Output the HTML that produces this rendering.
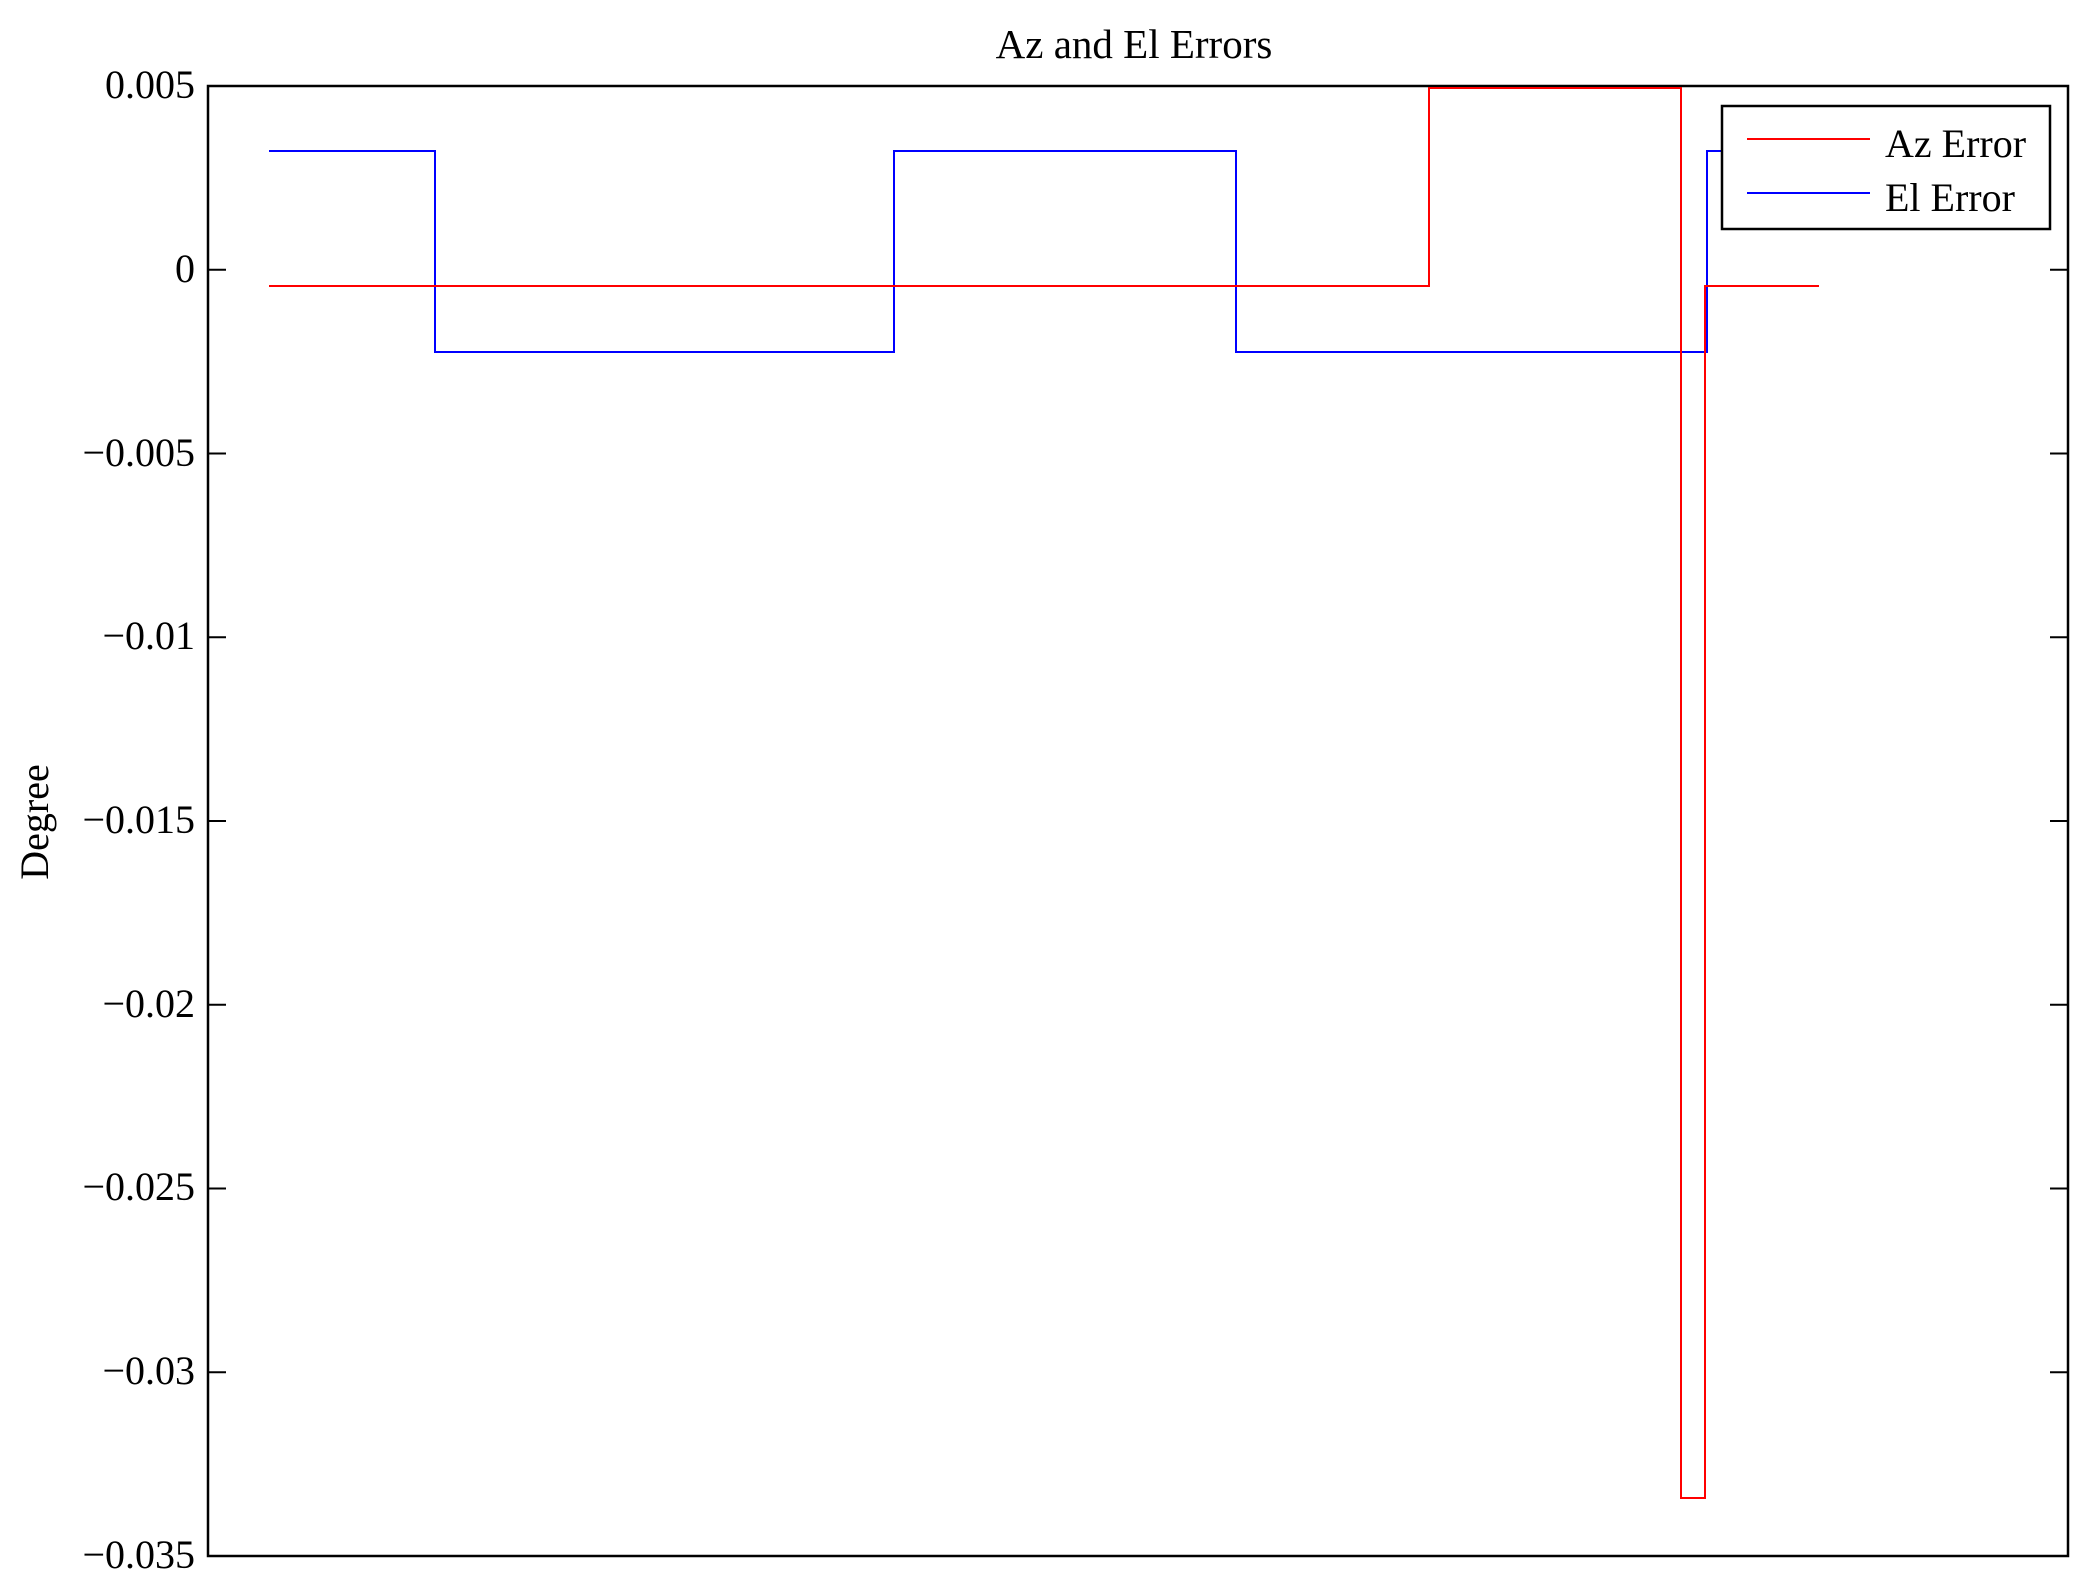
<!DOCTYPE html>
<html><head><meta charset="utf-8"><style>
html,body{margin:0;padding:0;background:#fff;}
svg{display:block;}
text{font-family:"Liberation Serif",serif;fill:#000;}
</style></head><body>
<svg width="2096" height="1592" viewBox="0 0 2096 1592" xmlns="http://www.w3.org/2000/svg">
<rect width="2096" height="1592" fill="#fff"/>
<text x="1134" y="58" font-size="41" text-anchor="middle">Az and El Errors</text>
<text transform="translate(48,822) rotate(-90)" font-size="40" text-anchor="middle">Degree</text>
<g stroke="#000" stroke-width="2">
<line x1="208" y1="86" x2="226" y2="86"/><line x1="2068" y1="86" x2="2050" y2="86"/>
<line x1="208" y1="269.75" x2="226" y2="269.75"/><line x1="2068" y1="269.75" x2="2050" y2="269.75"/>
<line x1="208" y1="453.5" x2="226" y2="453.5"/><line x1="2068" y1="453.5" x2="2050" y2="453.5"/>
<line x1="208" y1="637.25" x2="226" y2="637.25"/><line x1="2068" y1="637.25" x2="2050" y2="637.25"/>
<line x1="208" y1="821" x2="226" y2="821"/><line x1="2068" y1="821" x2="2050" y2="821"/>
<line x1="208" y1="1004.75" x2="226" y2="1004.75"/><line x1="2068" y1="1004.75" x2="2050" y2="1004.75"/>
<line x1="208" y1="1188.5" x2="226" y2="1188.5"/><line x1="2068" y1="1188.5" x2="2050" y2="1188.5"/>
<line x1="208" y1="1372.25" x2="226" y2="1372.25"/><line x1="2068" y1="1372.25" x2="2050" y2="1372.25"/>
</g>
<g font-size="40" text-anchor="end">
<text x="195" y="98">0.005</text>
<text x="195" y="282">0</text>
<text x="195" y="466">−0.005</text>
<text x="195" y="649">−0.01</text>
<text x="195" y="833">−0.015</text>
<text x="195" y="1017">−0.02</text>
<text x="195" y="1200">−0.025</text>
<text x="195" y="1384">−0.03</text>
<text x="195" y="1568">−0.035</text>
</g>
<polyline fill="none" stroke="#0000ff" stroke-width="2" points="269,151 435,151 435,352 894,352 894,151 1236,151 1236,352 1707,352 1707,151 1819,151"/>
<rect x="208" y="86" width="1860" height="1470" fill="none" stroke="#000" stroke-width="2.5"/>
<polyline fill="none" stroke="#ff0000" stroke-width="2" points="269,286 1429,286 1429,88 1681,88 1681,1498 1705,1498 1705,286 1819,286"/>
<rect x="1722" y="106" width="328" height="123" fill="#fff" stroke="#000" stroke-width="2.5"/>
<line x1="1747" y1="139" x2="1870" y2="139" stroke="#ff0000" stroke-width="2"/>
<line x1="1747" y1="193" x2="1870" y2="193" stroke="#0000ff" stroke-width="2"/>
<text x="1885" y="157" font-size="40">Az Error</text>
<text x="1885" y="211" font-size="40">El Error</text>
</svg>
</body></html>
